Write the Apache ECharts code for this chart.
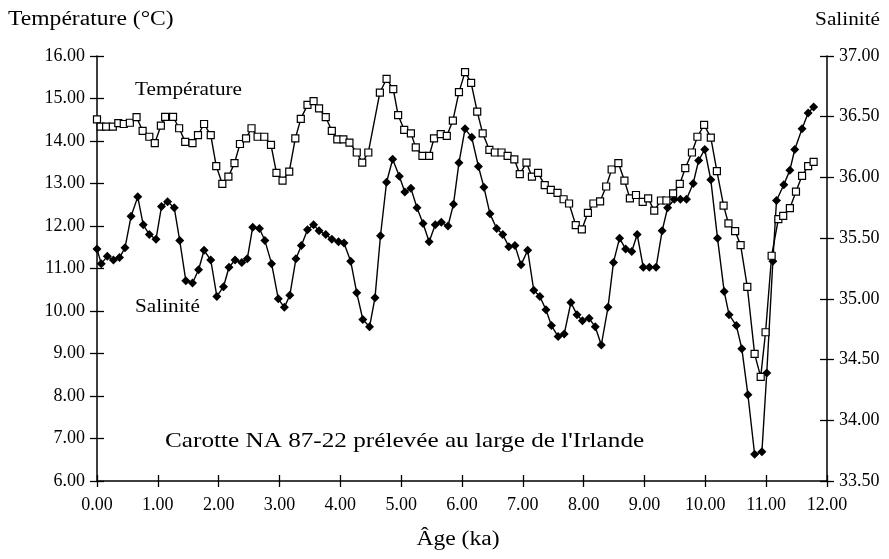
<!DOCTYPE html>
<html>
<head>
<meta charset="utf-8">
<script src="https://cdn.jsdelivr.net/npm/echarts@6/dist/echarts.min.js"></script>
<style>html,body{margin:0;padding:0;background:#fff}#c{width:889px;height:559px}</style>
</head>
<body>
<div id="c"></div>
<script>
const xTicks = [0,1,2,3,4,5,6,7,8,9,10,11,12];
const tempTicks = [6,7,8,9,10,11,12,13,14,15,16];
const salTicks = [33.5,34,34.5,35,35.5,36,36.5,37];

const tempAge = [0,0.06,0.15,0.26,0.35,0.44,0.54,0.65,0.75,0.86,0.95,1.05,1.12,1.25,1.35,1.45,1.57,1.66,1.76,1.87,1.96,2.06,2.16,2.26,2.35,2.45,2.54,2.64,2.75,2.86,2.95,3.05,3.16,3.26,3.35,3.46,3.56,3.65,3.76,3.86,3.95,4.05,4.15,4.27,4.36,4.46,4.65,4.76,4.87,4.95,5.05,5.16,5.24,5.35,5.46,5.54,5.65,5.75,5.85,5.95,6.05,6.15,6.25,6.34,6.45,6.54,6.65,6.75,6.86,6.95,7.06,7.15,7.25,7.36,7.46,7.57,7.67,7.76,7.87,7.97,8.07,8.16,8.27,8.37,8.46,8.57,8.67,8.76,8.86,8.97,9.06,9.16,9.27,9.36,9.47,9.58,9.67,9.78,9.87,9.98,10.09,10.19,10.30,10.38,10.49,10.58,10.69,10.81,10.91,10.99,11.09,11.20,11.28,11.39,11.49,11.59,11.69,11.78];
const tempVal = [14.51,14.34,14.34,14.34,14.42,14.40,14.43,14.56,14.24,14.10,13.95,14.36,14.57,14.57,14.30,13.98,13.95,14.14,14.40,14.14,13.41,12.99,13.16,13.48,13.93,14.06,14.30,14.10,14.10,13.91,13.25,13.07,13.28,14.06,14.52,14.85,14.94,14.77,14.56,14.24,14.04,14.04,13.96,13.73,13.49,13.73,15.14,15.46,15.22,14.61,14.26,14.18,13.85,13.65,13.65,14.06,14.16,14.12,14.48,15.15,15.62,15.37,14.69,14.18,13.79,13.73,13.73,13.65,13.57,13.22,13.49,13.16,13.25,12.96,12.85,12.78,12.63,12.53,12.02,11.92,12.31,12.53,12.58,12.93,13.33,13.48,13.07,12.65,12.73,12.57,12.65,12.36,12.60,12.60,12.77,12.99,13.36,13.73,14.10,14.38,14.08,13.29,12.48,12.06,11.88,11.55,10.57,8.99,8.45,9.50,11.30,12.16,12.24,12.42,12.81,13.18,13.41,13.51];

const salAge = [0,0.07,0.17,0.27,0.37,0.46,0.56,0.67,0.76,0.86,0.97,1.06,1.16,1.27,1.36,1.46,1.57,1.67,1.76,1.87,1.97,2.08,2.17,2.27,2.38,2.47,2.56,2.67,2.76,2.87,2.98,3.08,3.17,3.27,3.36,3.46,3.56,3.65,3.76,3.86,3.97,4.06,4.17,4.27,4.37,4.48,4.57,4.66,4.76,4.86,4.97,5.06,5.16,5.26,5.36,5.46,5.56,5.66,5.77,5.86,5.95,6.05,6.16,6.27,6.36,6.46,6.57,6.67,6.77,6.87,6.97,7.08,7.18,7.28,7.38,7.47,7.58,7.68,7.79,7.89,7.98,8.09,8.19,8.29,8.40,8.49,8.59,8.69,8.79,8.88,8.98,9.08,9.19,9.29,9.38,9.49,9.59,9.69,9.80,9.89,9.99,10.09,10.20,10.31,10.39,10.51,10.60,10.70,10.81,10.93,11.01,11.11,11.17,11.29,11.39,11.47,11.59,11.69,11.78];
const salVal = [35.41,35.29,35.35,35.32,35.34,35.42,35.68,35.84,35.61,35.53,35.49,35.76,35.80,35.75,35.48,35.15,35.13,35.24,35.40,35.32,35.02,35.10,35.26,35.32,35.30,35.33,35.59,35.58,35.48,35.29,35.00,34.93,35.03,35.33,35.44,35.57,35.61,35.56,35.53,35.49,35.47,35.46,35.31,35.05,34.83,34.77,35.01,35.52,35.96,36.15,36.01,35.88,35.91,35.75,35.62,35.47,35.61,35.63,35.60,35.78,36.12,36.40,36.33,36.09,35.92,35.70,35.58,35.53,35.43,35.44,35.28,35.40,35.07,35.02,34.91,34.78,34.69,34.71,34.97,34.87,34.82,34.84,34.77,34.62,34.93,35.30,35.50,35.41,35.39,35.53,35.26,35.26,35.26,35.56,35.75,35.82,35.82,35.82,35.95,36.14,36.23,35.98,35.50,35.06,34.87,34.78,34.59,34.21,33.72,33.74,34.39,35.31,35.81,35.94,36.06,36.23,36.40,36.53,36.58];

const FONT = '"Liberation Serif", "Times New Roman", serif';
const lineCol = '#000';

const chart = echarts.init(document.getElementById('c'), null, {renderer: 'canvas'});

function xAx(inside, show) {
  return {
    type: 'value', min: xTicks[0], max: xTicks[xTicks.length-1], interval: xTicks[1]-xTicks[0],
    position: 'bottom',
    axisLine: {show: show, onZero: false, lineStyle: {color: lineCol, width: 1.5}},
    axisTick: {show: true, inside: inside, length: 6, lineStyle: {color: lineCol, width: 1.3}},
    axisLabel: {show: show, formatter: v => v.toFixed(2), fontFamily: FONT, fontSize: 18, color: '#000', margin: 15},
    splitLine: {show: false}
  };
}
function yAx(pos, lo, hi, step, inside, show) {
  return {
    type: 'value', min: lo, max: hi, interval: step, position: pos,
    axisLine: {show: show, onZero: false, lineStyle: {color: lineCol, width: 1.5}},
    axisTick: {show: true, inside: inside, length: 7, lineStyle: {color: lineCol, width: 1.3}},
    axisLabel: {show: show, formatter: v => v.toFixed(2), fontFamily: FONT, fontSize: 18, color: '#000', margin: 12},
    splitLine: {show: false}
  };
}

function txt(text, x, y, size, align, sx) {
  return {
    type: 'text', x: x, y: y, scaleX: sx, z: 10,
    style: {text: text, font: size + 'px ' + FONT, fill: '#000',
            align: align, verticalAlign: 'middle', textAlign: align, textVerticalAlign: 'middle'}
  };
}

chart.setOption({
  animation: false,
  backgroundColor: '#fff',
  grid: {left: 97, right: 62, top: 56, bottom: 78, containLabel: false},
  xAxis: [xAx(false, true), xAx(true, false)],
  yAxis: [
    yAx('left', tempTicks[0], tempTicks[tempTicks.length-1], 1, false, true),
    yAx('left', tempTicks[0], tempTicks[tempTicks.length-1], 1, true, false),
    yAx('right', salTicks[0], salTicks[salTicks.length-1], 0.5, false, true),
    yAx('right', salTicks[0], salTicks[salTicks.length-1], 0.5, true, false)
  ],
  series: [
    {
      name: 'Salinité', type: 'line', xAxisIndex: 0, yAxisIndex: 2,
      data: salAge.map((a, i) => [a, salVal[i]]),
      symbol: 'diamond', symbolSize: 9, showSymbol: true,
      lineStyle: {color: '#000', width: 1.4},
      itemStyle: {color: '#000', borderColor: '#000', borderWidth: 0}
    },
    {
      name: 'Température', type: 'line', xAxisIndex: 0, yAxisIndex: 0,
      data: tempAge.map((a, i) => [a, tempVal[i]]),
      symbol: 'rect', symbolSize: 7, showSymbol: true,
      lineStyle: {color: '#000', width: 1.4},
      itemStyle: {color: '#fff', borderColor: '#000', borderWidth: 1.2}
    }
  ],
  graphic: [
    txt('Température (°C)', 8, 20, 20, 'left', 1.18),
    txt('Salinité', 880, 20, 18, 'right', 1.18),
    txt('Température', 135, 90, 18, 'left', 1.18),
    txt('Salinité', 135, 307, 18, 'left', 1.18),
    txt("Carotte NA 87-22 prélevée au large de l'Irlande", 165, 441, 21, 'left', 1.2),
    txt('Âge (ka)', 458, 540, 20, 'center', 1.18)
  ]
});
</script>
</body>
</html>
